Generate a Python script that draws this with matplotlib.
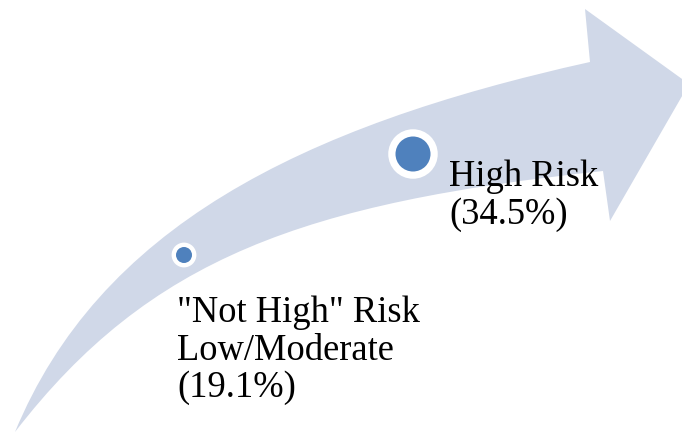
import numpy as np
import matplotlib.pyplot as plt
from matplotlib.path import Path
from matplotlib.patches import PathPatch, Circle

# risk groups and their shares
labels = ['"Not High" Risk\nLow/Moderate', 'High Risk']
shares = [19.1, 34.5]

# where each marker / label sits along the arrow (pixel space, y down)
marker_xy = [(184, 256), (413, 155)]
marker_r = [8, 17.5]
label_xy = [(177, 296), (449, 160)]

arrow_color = '#D0D8E8'
dot_color = '#4F81BD'

fig = plt.figure(figsize=(6.82, 4.35), dpi=100)
ax = fig.add_axes([0, 0, 1, 1])
ax.set_xlim(0, 682)
ax.set_ylim(435, 0)
ax.axis('off')

# curved arrow: upper edge, head, lower edge back to the tail
verts = [
    (15, 433),
    (99, 230), (297, 128), (590, 63),   # upper edge
    (585, 10),
    (689, 85),
    (610, 222),
    (603, 172),
    (305, 204), (150, 258), (15, 433),  # lower edge
    (15, 433),
]
codes = [Path.MOVETO,
         Path.CURVE4, Path.CURVE4, Path.CURVE4,
         Path.LINETO, Path.LINETO, Path.LINETO, Path.LINETO,
         Path.CURVE4, Path.CURVE4, Path.CURVE4,
         Path.CLOSEPOLY]
ax.add_patch(PathPatch(Path(verts, codes), facecolor=arrow_color,
                       edgecolor='none', zorder=1))

for (x, y), r in zip(marker_xy, marker_r):
    ring = r * 0.3 + 2
    ax.add_patch(Circle((x, y), r + ring, facecolor='white',
                        edgecolor='none', zorder=2))
    ax.add_patch(Circle((x, y), r, facecolor=dot_color,
                        edgecolor='none', zorder=3))

for (x, y), lab, pct in zip(label_xy, labels, shares):
    ax.text(x, y, f'{lab}\n({pct}%)', family='Liberation Serif',
            fontsize=26.3, color='black', ha='left', va='top',
            linespacing=1.1, zorder=4)

fig.savefig('out.png', dpi=100)
